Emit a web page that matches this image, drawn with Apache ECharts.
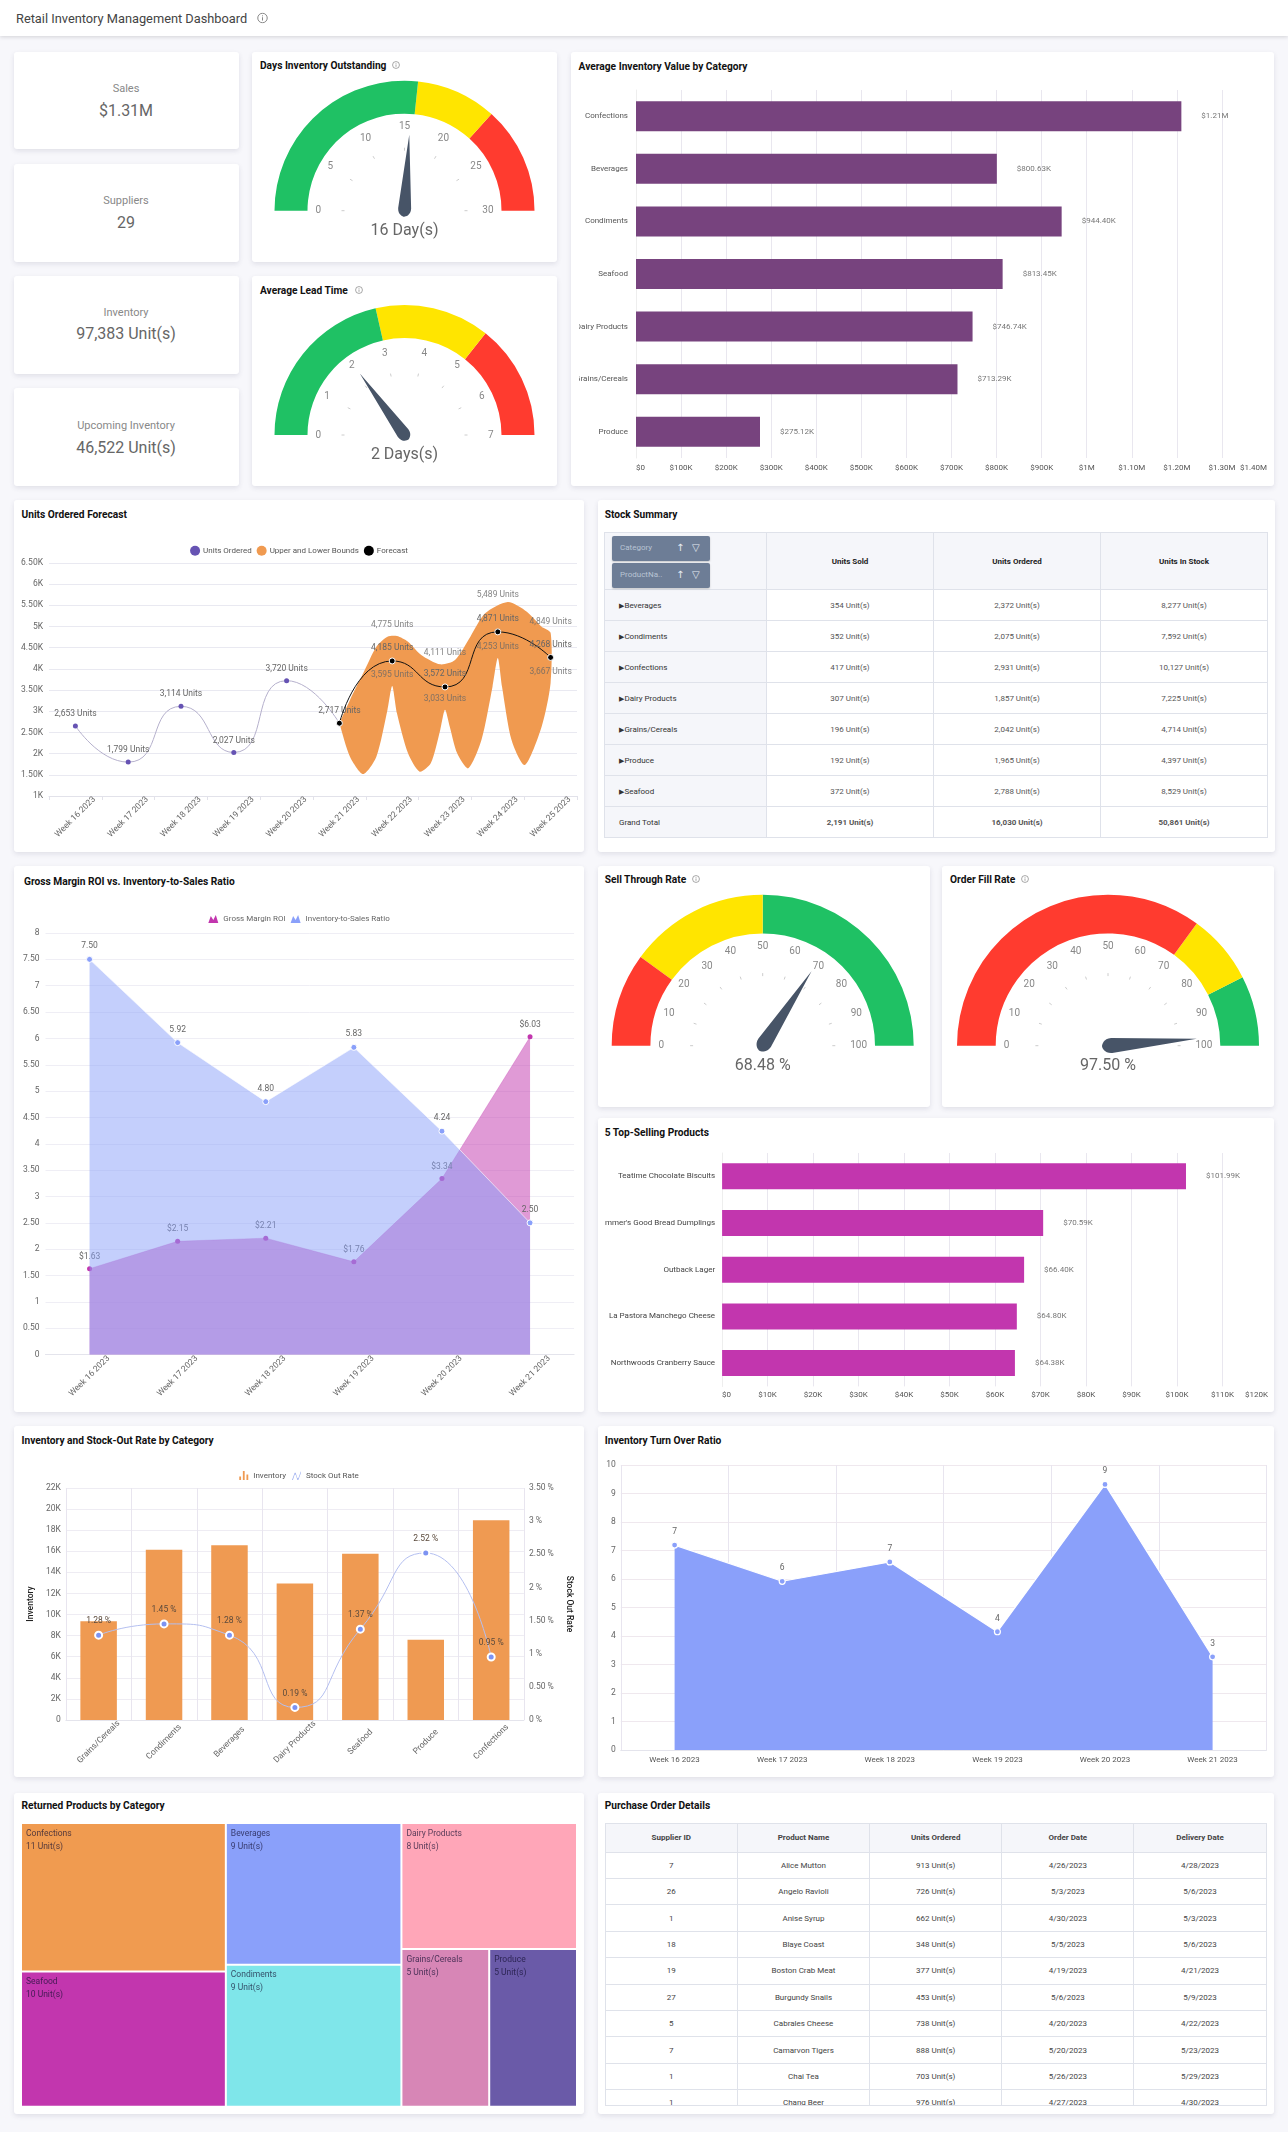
<!DOCTYPE html>
<html><head><meta charset="utf-8">
<script src="https://cdn.jsdelivr.net/npm/echarts@6/dist/echarts.min.js"></script>
<style>
html,body{margin:0;padding:0;background:#f7f7fb;font-family:Roboto,sans-serif;}
#page{position:relative;width:1288px;height:2132px;overflow:hidden;background:#f7f7fb;}
.hdr{position:absolute;left:0;top:0;width:1288px;height:36px;background:#fff;box-shadow:0 1px 4px rgba(0,0,0,.15);}
.hdr span{position:absolute;left:16px;top:18px;transform:translateY(-50%);font-size:12.8px;color:#444;white-space:nowrap;}
.card{position:absolute;background:#fff;border-radius:3px;box-shadow:0 2px 5px rgba(60,60,90,.12);}
.ttl{position:absolute;transform:translateY(-50%);font-size:10.2px;font-weight:700;color:#111;white-space:nowrap;}
.ic{position:absolute;transform:translateY(-50%);}
.kl{position:absolute;transform:translate(-50%,-50%);font-size:11px;color:#888;white-space:nowrap;}
.kv{position:absolute;transform:translate(-50%,-50%);font-size:16px;color:#666;white-space:nowrap;}
.ch{position:absolute;}
table{position:absolute;border-collapse:collapse;table-layout:fixed;font-size:8px;color:#555;}
td,th{border:1px solid #dfe2ea;text-align:center;padding:0;overflow:hidden;white-space:nowrap;}
th{background:#f5f6fa;color:#222;font-weight:700;}
td.first{background:#f5f6fa;text-align:left;padding-left:14px;color:#333;}
.pill{position:absolute;background:#6d7d96;border-radius:2px;color:#b9c4d4;font-size:8px;line-height:24px;padding-left:8px;box-sizing:border-box;box-shadow:0 1px 2px rgba(0,0,0,.2);}
.pill i{position:absolute;font-style:normal;color:#e6ebf2;font-size:10px;font-family:'DejaVu Sans',sans-serif;}
</style></head><body><div id="page"></div>
<script>
// ----- KPI tiles
const kpiLabels=['Sales','Suppliers','Inventory','Upcoming Inventory'];
const kpiValues=['$1.31M','29','97,383 Unit(s)','46,522 Unit(s)'];
// ----- Gauges
const gaugeTitles=['Days Inventory Outstanding','Average Lead Time','Sell Through Rate','Order Fill Rate'];
const gaugeMax=[30,7,100,100];
const gaugeValues=[15.6,2.1,68.48,97.5];
const gaugeText=['16 Day(s)','2 Days(s)','68.48 %','97.50 %'];
const gaugeStops=[[16,22,30],[3,5,7],[20,50,100],[70,85,100]];
const gaugeColors=[['#1fc164','#ffe500','#ff3b2f'],['#1fc164','#ffe500','#ff3b2f'],['#ff3b2f','#ffe500','#1fc164'],['#ff3b2f','#ffe500','#1fc164']];
// ----- Average inventory value
const avgCategories=['Confections','Beverages','Condiments','Seafood','Dairy Products','Grains/Cereals','Produce'];
const avgValues=[1210000,800630,944400,813450,746740,713290,275120];
const avgLabels=['$1.21M','$800.63K','$944.40K','$813.45K','$746.74K','$713.29K','$275.12K'];
// ----- Forecast
const weeks=['Week 16 2023','Week 17 2023','Week 18 2023','Week 19 2023','Week 20 2023','Week 21 2023','Week 22 2023','Week 23 2023','Week 24 2023','Week 25 2023'];
const unitsOrdered=[2653,1799,3114,2027,3720,2717,null,null,null,null];
const forecast=[null,null,null,null,null,2717,4185,3572,4871,4268];
const upperBound=[null,null,null,null,null,null,4775,4111,5489,4849];
const lowerBound=[null,null,null,null,null,null,3595,3033,4253,3667];
// band outline: position along the week axis (0-10) and value
const bandUpperPos=[5.5,5.7,5.95,6.2,6.41,6.59,6.8,7.05,7.41,7.69,7.98,8.26,8.69,9.05,9.33,9.5];
const bandUpperVal=[2717,3264,3893,4522,4758,4774,4640,4326,4105,4208,4758,5308,5576,5348,4994,4849];
const bandLowerPos=[9.5,9.33,9.01,8.76,8.58,8.5,8.4,8.19,7.94,7.73,7.59,7.5,7.41,7.23,7.02,6.8,6.59,6.5,6.41,6.2,5.95,5.7,5.5];
const bandLowerVal=[3667,2635,1731,2321,3579,4253,3579,2321,1653,2006,2635,3033,2557,1770,1574,2006,2950,3595,3028,1928,1519,1928,2717];
// ----- Stock summary
const stockCats=['Beverages','Condiments','Confections','Dairy Products','Grains/Cereals','Produce','Seafood'];
const stockSold=['354 Unit(s)','352 Unit(s)','417 Unit(s)','307 Unit(s)','196 Unit(s)','192 Unit(s)','372 Unit(s)'];
const stockOrdered=['2,372 Unit(s)','2,075 Unit(s)','2,931 Unit(s)','1,857 Unit(s)','2,042 Unit(s)','1,965 Unit(s)','2,788 Unit(s)'];
const stockInStock=['8,277 Unit(s)','7,592 Unit(s)','10,127 Unit(s)','7,225 Unit(s)','4,714 Unit(s)','4,397 Unit(s)','8,529 Unit(s)'];
const stockTotals=['2,191 Unit(s)','16,030 Unit(s)','50,861 Unit(s)'];
// ----- Gross margin
const gmWeeks=weeks.slice(0,6);
const grossMargin=[1.63,2.15,2.21,1.76,3.34,6.03];
const invToSales=[7.5,5.92,4.8,5.83,4.24,2.5];
// ----- Top products
const topProducts=['Teatime Chocolate Biscuits',"immer's Good Bread Dumplings",'Outback Lager','La Pastora Manchego Cheese','Northwoods Cranberry Sauce'];
const topValues=[101990,70590,66400,64800,64380];
const topLabels=['$101.99K','$70.59K','$66.40K','$64.80K','$64.38K'];
// ----- Inventory & stock out
const stockOutCats=['Grains/Cereals','Condiments','Beverages','Dairy Products','Seafood','Produce','Confections'];
const inventory=[9370,16140,16580,12940,15760,7600,18950];
const stockOutRate=[1.28,1.45,1.28,0.19,1.37,2.52,0.95];
// ----- Turn over
const turnOver=[7.19,5.92,6.6,4.15,9.32,3.27];
// ----- Treemap
const returnCats=['Confections','Seafood','Beverages','Condiments','Dairy Products','Grains/Cereals','Produce'];
const returnVals=[11,10,9,9,8,5,5];
const returnColors=['#f09b50','#c236ae','#8aa0fa','#7fe6ea','#ffa6b8','#d786b6','#6a5aa8'];
// ----- Purchase orders
const poHead=['Supplier ID','Product Name','Units Ordered','Order Date','Delivery Date'];
const poSupplier=['7','26','1','18','19','27','5','7','1','1'];
const poProduct=['Alice Mutton','Angelo Ravioli','Anise Syrup','Blaye Coast','Boston Crab Meat','Burgundy Snails','Cabrales Cheese','Camarvon Tigers','Chai Tea','Chang Beer'];
const poUnits=['913 Unit(s)','726 Unit(s)','662 Unit(s)','348 Unit(s)','377 Unit(s)','453 Unit(s)','738 Unit(s)','888 Unit(s)','703 Unit(s)','976 Unit(s)'];
const poOrder=['4/26/2023','5/3/2023','4/30/2023','5/5/2023','4/19/2023','5/6/2023','4/20/2023','5/20/2023','5/26/2023','4/27/2023'];
const poDelivery=['4/28/2023','5/6/2023','5/3/2023','5/6/2023','4/21/2023','5/9/2023','4/22/2023','5/23/2023','5/29/2023','4/30/2023'];

const page=document.getElementById('page');
function el(tag,cls,css,html){const d=document.createElement(tag);if(cls)d.className=cls;if(css)d.style.cssText=css;if(html!=null)d.innerHTML=html;page.appendChild(d);return d;}
function card(x0,y0,x1,y1){el('div','card',`left:${x0}px;top:${y0}px;width:${x1-x0}px;height:${y1-y0}px`);}
const infoSvg=(s)=>`<svg width="${s}" height="${s}" viewBox="0 0 10 10"><circle cx="5" cy="5" r="4.3" fill="none" stroke="#777" stroke-width=".8"/><rect x="4.6" y="4.3" width=".8" height="3" fill="#777"/><rect x="4.6" y="2.6" width=".8" height=".9" fill="#777"/></svg>`;
function title(t,x,y,ix){el('div','ttl',`left:${x}px;top:${y}px`,t);if(ix)el('div','ic',`left:${ix}px;top:${y}px;line-height:0`,infoSvg(8));}
function chart(x0,y0,x1,y1){const d=el('div','ch',`left:${x0}px;top:${y0}px;width:${x1-x0}px;height:${y1-y0}px`);return echarts.init(d,null,{renderer:'canvas'});}
const F='Roboto,sans-serif';
const tx={fontFamily:F,fontSize:8.5,color:'#666'};
const tx8={fontFamily:F,fontSize:8,color:'#666'};
const grid=(r,x,y,w,h)=>({left:x-r[0],top:y-r[1],width:w,height:h,containLabel:false,outerBoundsMode:'none'});

el('div','hdr',null,`<span>Retail Inventory Management Dashboard</span>`);
el('div','ic',`left:257px;top:18px;line-height:0`,infoSvg(11));

// KPI tiles
const kpiRects=[[52,149],[164,262],[276,374],[388,486]];
const kpiY=[[88,109.5],[200,222],[312,333],[425,447]];
kpiLabels.forEach((t,i)=>{card(14,kpiRects[i][0],239,kpiRects[i][1]);
 el('div','kl',`left:126px;top:${kpiY[i][0]}px`,t);el('div','kv',`left:126px;top:${kpiY[i][1]}px`,kpiValues[i]);});

// Gauges
const gaugeBox=[[252,52,557,262],[252,276,557,486],[598,866,930,1107],[942,866,1274,1107]];
const gaugeGeo=[[404.5,210.7,130,33,6],[404.5,435,130,33,7],[762.7,1045.7,151,38.7,10],[1108,1045.7,151,38.7,10]];
const gaugeTtl=[[260,65,392],[260,290,355],[604.7,879,692],[950,879,1021]];
const ptr='path://M50 0 L100 880 C100 960 60 980 50 980 C40 980 0 960 0 880 Z';
gaugeTitles.forEach((t,i)=>{
 const b=gaugeBox[i],g=gaugeGeo[i],m=gaugeMax[i];
 card(b[0],b[1],b[2],b[3]);title(t,gaugeTtl[i][0],gaugeTtl[i][1],gaugeTtl[i][2]);
 const big=g[2]>140;
 chart(b[0],b[1],b[2],b[3]).setOption({animation:false,series:[{type:'gauge',center:[g[0]-b[0],g[1]-b[1]],radius:g[2],
  startAngle:180,endAngle:0,min:0,max:m,splitNumber:g[4],
  axisLine:{lineStyle:{width:g[3],color:gaugeStops[i].map((s,k)=>[s/m,gaugeColors[i][k]])}},
  axisTick:{show:false},splitLine:{length:3,distance:g[3]+1,lineStyle:{color:'#ccc',width:1}},
  axisLabel:{distance:4,fontFamily:F,fontSize:10,color:'#888'},
  pointer:{icon:ptr,width:big?15:13,length:(big?89:76)+6,offsetCenter:[0,6],itemStyle:{color:'#475467'}},
  anchor:{show:false},title:{show:false},
  detail:{offsetCenter:[0,20],fontFamily:F,fontSize:16,fontWeight:400,color:'#666',formatter:()=>gaugeText[i]},
  data:[{value:gaugeValues[i]}]}]});
});

// Average inventory bars
card(571,52,1274,486);title('Average Inventory Value by Category',578.6,65.7);
{const r=[579,75];
 const fmt=v=>v===0?'$0':v>=1e6?('$'+(v%1e6===0?v/1e6:(v/1e6).toFixed(2))+'M'):('$'+v/1e3+'K');
 chart(579,75,1267,486).setOption({animation:false,grid:grid(r,636,90,631,368),
 xAxis:{type:'value',min:0,max:1400000,interval:100000,axisLine:{show:false},axisTick:{show:false},
  splitLine:{lineStyle:{color:'#e9e7ef'}},axisLabel:{...tx8,color:'#555',margin:6,formatter:fmt,alignMinLabel:'left',alignMaxLabel:'right'}},
 yAxis:{type:'category',inverse:true,data:avgCategories,axisLine:{lineStyle:{color:'#eee'}},axisTick:{show:false},
  axisLabel:{...tx8,color:'#555',margin:8,interval:0}},
 series:[{type:'bar',data:avgValues,barWidth:30,itemStyle:{color:'#77437e'},
  label:{show:true,position:'right',distance:20,...tx8,color:'#777',formatter:p=>avgLabels[p.dataIndex]}}]});
}

// Forecast
card(14,500,584,852);title('Units Ordered Forecast',21.5,514);
{const r=[14,530];
 const fmtK=v=>(v%1000===0?v/1000:(v/1000).toFixed(2))+'K';
 const lab=(v)=>Number(v).toLocaleString('en-US')+' Units';
 const lbl={show:true,position:'top',distance:5,...tx,color:'#666',formatter:p=>lab(p.value)};
 const toPts=(api,a,b)=>a.map((x,i)=>api.coord([x,b[i]]));
 chart(14,530,584,852).setOption({animation:false,grid:grid(r,49,562.8,528,233.2),
 legend:{top:550.7-530-5,left:'center',itemWidth:10,itemHeight:10,itemGap:5,padding:0,textStyle:{...tx,fontSize:8,color:'#555',padding:[0,0,0,-2]},
  data:[{name:'Units Ordered',icon:'circle'},{name:'Upper and Lower Bounds',icon:'circle'},{name:'Forecast',icon:'circle',itemStyle:{color:'#000',borderWidth:0}}]},
 xAxis:[{type:'category',data:weeks,axisLine:{lineStyle:{color:'#e2e2ea'}},axisTick:{show:true,length:4,lineStyle:{color:'#e2e2ea'}},
   axisLabel:{...tx,rotate:45,align:'center',verticalAlign:'middle',margin:21,interval:0}},
  {type:'value',min:0,max:10,show:false}],
 yAxis:{type:'value',min:1000,max:6500,interval:500,axisLine:{show:false},axisTick:{show:false},
  splitLine:{lineStyle:{color:'#e9e9f1'}},axisLabel:{...tx,margin:6,formatter:fmtK}},
 series:[
  {name:'Upper and Lower Bounds',type:'custom',xAxisIndex:1,z:1,clip:false,itemStyle:{color:'#f09a50'},data:[[0,0]],silent:true,
   renderItem:(p,api)=>({type:'polygon',shape:{points:toPts(api,bandUpperPos,bandUpperVal).concat(toPts(api,bandLowerPos,bandLowerVal)),smooth:0.25},style:{fill:'#f09a50'}})},
  {name:'Units Ordered',type:'line',smooth:0.6,data:unitsOrdered,z:3,symbol:'circle',symbolSize:5,itemStyle:{color:'#6653b3'},lineStyle:{color:'#b5b0cc',width:1},label:lbl},
  {name:'Forecast',type:'line',smooth:0.6,data:forecast,z:4,symbol:'circle',symbolSize:6,itemStyle:{color:'#000',borderColor:'#fff',borderWidth:1},lineStyle:{color:'#111',width:1},
   label:{...lbl,formatter:p=>p.dataIndex===5?'':lab(p.value)}},
  {name:'Upper',type:'scatter',data:upperBound,symbolSize:1,z:5,itemStyle:{color:'transparent'},label:{...lbl,distance:6}},
  {name:'Lower',type:'scatter',data:lowerBound,symbolSize:1,z:5,itemStyle:{color:'transparent'},label:{...lbl,distance:6}}
 ]});
}

// Stock summary table
card(598,500,1275,852);title('Stock Summary',604.7,514);
{let h=`<table style="left:604px;top:532px;width:663px"><colgroup><col style="width:162px"><col style="width:167px"><col style="width:167px"><col style="width:167px"></colgroup>`;
 h+=`<tr style="height:57px"><th></th><th>Units Sold</th><th>Units Ordered</th><th>Units In Stock</th></tr>`;
 stockCats.forEach((c,i)=>{h+=`<tr style="height:31px"><td class="first"><span style="font-size:7px;font-family:'DejaVu Sans'">&#9654;</span>${c}</td><td>${stockSold[i]}</td><td>${stockOrdered[i]}</td><td>${stockInStock[i]}</td></tr>`;});
 h+=`<tr style="height:31px"><td class="first">Grand Total</td><td><b>${stockTotals[0]}</b></td><td><b>${stockTotals[1]}</b></td><td><b>${stockTotals[2]}</b></td></tr></table>`;
 const w=document.createElement('div');w.innerHTML=h;page.appendChild(w);
 [['Category',536],['ProductNa..',563]].forEach(([t,y])=>{el('div','pill',`left:612px;top:${y}px;width:98px;height:25px`,`${t}<i style="left:64px;top:0">↑</i><i style="left:80px;top:0">▽</i>`);});
}

// Gross margin
card(14,866,584,1412);title('Gross Margin ROI vs. Inventory-to-Sales Ratio',24,881);
{const r=[14,900];
 const mtn='path://M0 10 L2.5 3 L5 7 L7.5 2 L10 10 Z';
 chart(14,900,584,1412).setOption({animation:false,grid:grid(r,45.5,933,528.6,421.6),
 legend:{top:920-900-5,left:'center',itemWidth:10,itemHeight:8,itemGap:5,padding:0,textStyle:{...tx8,color:'#666'},
  data:[{name:'Gross Margin ROI',icon:mtn,itemStyle:{color:'#c236ae',borderWidth:0}},{name:'Inventory-to-Sales Ratio',icon:mtn,itemStyle:{color:'#8aa0fa',borderWidth:0}}]},
 xAxis:{type:'category',data:gmWeeks,axisLine:{lineStyle:{color:'#e4e4ec'}},axisTick:{show:false},
  axisLabel:{...tx,rotate:45,align:'center',verticalAlign:'middle',margin:21.5,interval:0}},
 yAxis:{type:'value',min:0,max:8,interval:0.5,axisLine:{show:false},axisTick:{show:false},
  splitLine:{lineStyle:{color:'#efeef5'}},axisLabel:{...tx,margin:6,formatter:v=>v%1?v.toFixed(2):String(v)}},
 series:[
  {name:'Gross Margin ROI',type:'line',data:grossMargin,z:2,symbol:'circle',symbolSize:5,itemStyle:{color:'#c236ae',opacity:1},lineStyle:{color:'rgba(194,54,174,.25)',width:1},areaStyle:{color:'#c236ae',opacity:.5},
   label:{show:true,position:'top',distance:5,...tx,formatter:p=>'$'+p.value.toFixed(2)}},
  {name:'Inventory-to-Sales Ratio',type:'line',data:invToSales,z:3,symbol:'circle',symbolSize:6,itemStyle:{color:'#8aa0fa',borderColor:'#fff',borderWidth:1},lineStyle:{color:'rgba(255,255,255,.6)',width:1},areaStyle:{color:'#8aa0fa',opacity:.5},
   label:{show:true,position:'top',distance:5,...tx,formatter:p=>p.value.toFixed(2)}}
 ]});
}

// Top products
card(598,1118,1274,1412);title('5 Top-Selling Products',604.7,1131.7);
{const r=[604.7,1140];
 chart(604.7,1140,1267.6,1412).setOption({animation:false,grid:grid(r,721.8,1153,545.8,233.4),
 xAxis:{type:'value',min:0,max:120000,interval:10000,axisLine:{show:false},axisTick:{show:false},
  splitLine:{lineStyle:{color:'#e9e7ef'}},axisLabel:{...tx8,color:'#555',margin:5,formatter:v=>v===0?'$0':'$'+v/1000+'K',alignMinLabel:'left',alignMaxLabel:'right'}},
 yAxis:{type:'category',inverse:true,data:topProducts,axisLine:{lineStyle:{color:'#eee'}},axisTick:{show:false},
  axisLabel:{...tx8,color:'#444',margin:7,interval:0}},
 series:[{type:'bar',data:topValues,barWidth:26,itemStyle:{color:'#c236ae'},
  label:{show:true,position:'right',distance:20,...tx8,color:'#777',formatter:p=>topLabels[p.dataIndex]}}]});
}

// Inventory and stock-out
card(14,1426,584,1777);title('Inventory and Stock-Out Rate by Category',21.5,1440);
{const r=[14,1450];
 const barsIcon='path://M0 10V6H2V10Z M4 10V0H6V10Z M8 10V4H10V10Z';
 const waveIcon='path://M0 10 L3 2 L4 2 L6 8 L7 8 L10 0 L10 2 L7 10 L6 10 L4 4 L3 4 L1 10 Z';
 chart(14,1450,584,1777).setOption({animation:false,grid:grid(r,65.9,1488,458,232),
 legend:{top:1476-1450-5,left:'center',itemWidth:9,itemHeight:9,itemGap:6,padding:0,textStyle:{...tx8,color:'#555'},
  data:[{name:'Inventory',icon:barsIcon},{name:'Stock Out Rate',icon:waveIcon,itemStyle:{color:'#9fb0f0',borderWidth:0}}]},
 xAxis:{type:'category',data:stockOutCats,axisLine:{lineStyle:{color:'#e4e4ec'}},axisTick:{show:false},
  splitLine:{show:true,interval:0,lineStyle:{color:'#e8e5ef'}},
  axisLabel:{...tx,rotate:45,align:'center',verticalAlign:'middle',margin:22,interval:0}},
 yAxis:[{type:'value',min:0,max:22000,interval:2000,name:'Inventory',nameLocation:'middle',nameGap:31,nameTextStyle:{...tx,color:'#222',fontWeight:500},
   axisLine:{show:false},axisTick:{show:false},splitLine:{lineStyle:{color:'#eeecf3'}},axisLabel:{...tx,margin:5,formatter:v=>v===0?'0':v/1000+'K'}},
  {type:'value',min:0,max:3.5,interval:0.5,name:'Stock Out Rate',nameLocation:'middle',nameGap:40,nameRotate:-90,nameTextStyle:{...tx,color:'#222',fontWeight:500},
   axisLine:{show:false},axisTick:{show:false},splitLine:{show:false},axisLabel:{...tx,margin:5,formatter:v=>(v%1?v.toFixed(2):v)+' %'}}],
 series:[
  {name:'Inventory',type:'bar',data:inventory,barWidth:36.5,itemStyle:{color:'#ef9a52'}},
  {name:'Stock Out Rate',type:'line',yAxisIndex:1,smooth:0.6,data:stockOutRate,z:4,symbol:'circle',symbolSize:7,itemStyle:{color:'#7d93f2',borderColor:'#fff',borderWidth:2},lineStyle:{color:'#b4bff0',width:1},
   label:{show:true,position:'top',distance:5,...tx,color:'#5b4a3c',formatter:p=>p.value.toFixed(2)+' %'}}
 ]});
}

// Turn over
card(598,1426,1274,1777);title('Inventory Turn Over Ratio',604.7,1440);
{const r=[598,1450];
 chart(598,1450,1274,1777).setOption({animation:false,grid:grid(r,620.8,1465,645.6,285),
 xAxis:{type:'category',data:gmWeeks,axisLine:{lineStyle:{color:'#e4e4ec'}},axisTick:{show:false},
  splitLine:{show:true,interval:0,lineStyle:{color:'#e8e5ef'}},axisLabel:{...tx8,color:'#555',margin:6,interval:0}},
 yAxis:{type:'value',min:0,max:10,interval:1,axisLine:{show:false},axisTick:{show:false},
  splitLine:{lineStyle:{color:'#efe8ee'}},axisLabel:{...tx,margin:5}},
 series:[{type:'line',data:turnOver,symbol:'circle',symbolSize:6,itemStyle:{color:'#8aa0fa',borderColor:'#fff',borderWidth:1.2},lineStyle:{color:'#fff',width:1.2},areaStyle:{color:'#8aa0fa',opacity:1},
  label:{show:true,position:'top',distance:5,...tx,formatter:p=>Math.floor(p.value+0.4)}}]});
}

// Treemap: columns as in the picture
card(14,1793,584,2114);title('Returned Products by Category',21.5,1805);
{const leaf=i=>({name:returnCats[i],value:returnVals[i],itemStyle:{color:returnColors[i]}});
 const sum=a=>a.reduce((s,c)=>s+c.value,0);
 const grp=(n,ch)=>({name:n,value:sum(ch),children:ch});
 const g3=grp('g3',[leaf(5),leaf(6)]);
 const tree=[grp('g1',[leaf(0),leaf(1)]),grp('g2',[leaf(2),leaf(3)]),grp('g4',[leaf(4),g3])];
 chart(14,1815,584,2114).setOption({animation:false,
 series:[{type:'treemap',left:8,top:9,width:554,height:281.7,roam:false,nodeClick:false,breadcrumb:{show:false},
  sort:false,squareRatio:1,
  levels:[{itemStyle:{gapWidth:2,borderWidth:0}},{itemStyle:{gapWidth:2,borderWidth:0}},{itemStyle:{gapWidth:2,borderWidth:0}},{itemStyle:{gapWidth:2,borderWidth:0}}],
  label:{show:true,position:'insideTopLeft',padding:[3,4],...tx,color:'rgba(20,15,50,.72)',lineHeight:13,formatter:p=>p.name+'\n'+p.value+' Unit(s)'},
  upperLabel:{show:false},itemStyle:{borderWidth:0},
  data:tree}]});
}

// Purchase orders
card(598,1793,1274,2114);title('Purchase Order Details',604.7,1805);
{const rows=poSupplier.map((s,i)=>`<tr style="height:26.4px"><td>${s}</td><td>${poProduct[i]}</td><td>${poUnits[i]}</td><td>${poOrder[i]}</td><td>${poDelivery[i]}</td></tr>`).join('');
 const d=el('div',null,'position:absolute;left:604.7px;top:1823px;width:662.6px;height:282.7px;overflow:hidden;border-bottom:1px solid #dfe2ea;box-sizing:border-box');
 d.innerHTML=`<table style="position:static;width:662px;color:#444"><tr style="height:28.7px">${poHead.map(x=>`<th style="color:#444">${x}</th>`).join('')}</tr>${rows}</table>`;
}
</script></body></html>
